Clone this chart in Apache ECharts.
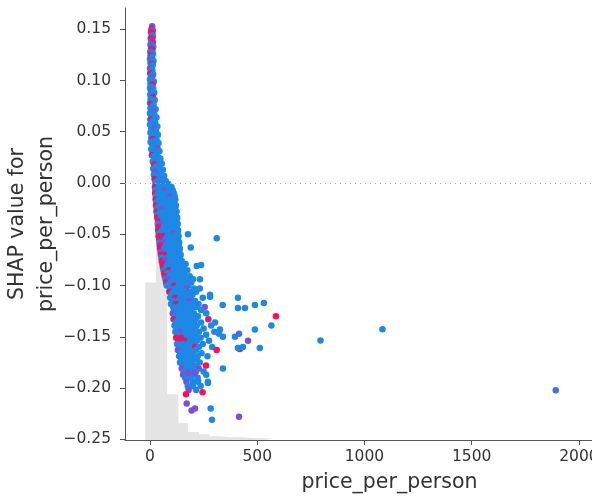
<!DOCTYPE html>
<html><head><meta charset="utf-8">
<script src="https://cdn.jsdelivr.net/npm/echarts@6/dist/echarts.min.js"></script>
<style>html,body{margin:0;padding:0;background:#fff}#c{width:592px;height:498px}</style>
</head><body><div id="c"></div>
<script>
const xTicks = [0, 500, 1000, 1500, 2000];
const yTicks = [-0.25, -0.2, -0.15, -0.1, -0.05, 0, 0.05, 0.1, 0.15];
const histEdges = [-22, 28, 80, 132, 178, 228, 278, 328, 378, 428, 478, 528, 578];
const histHeights = [-0.097, -0.048, -0.206, -0.234, -0.243, -0.245, -0.247, -0.248, -0.248, -0.2488, -0.249, -0.2493];
// [price_per_person, SHAP value, colour code 0 = blue ... 3 = red]
const topBand = [
[10,0.153,1],[7,0.150,2],[13,0.149,1],[5,0.147,3],[11,0.146,2],[8,0.144,1],[14,0.143,0],[4,0.141,2],[10,0.140,3],[6,0.138,1],[13,0.137,2],[2,0.135,0],[9,0.134,1],[15,0.133,0],[5,0.131,3],[11,0.130,2],[1,0.128,0],[7,0.127,1],[14,0.126,0],[3,0.124,2],[10,0.123,0],[0,0.121,0],[6,0.120,1],[16,0.119,0],[2,0.117,0],[9,0.116,2],[13,0.115,0],[4,0.113,0],[0,0.112,1],[11,0.110,0],[7,0.109,0],[1,0.107,2],[15,0.106,0],[4,0.104,0],[10,0.103,1],[0,0.101,0],[6,0.100,0],[18,0.099,0],[2,0.097,0],[12,0.096,3],[8,0.094,0],[0,0.093,0],[15,0.092,0],[4,0.090,1],[10,0.089,0],[20,0.088,0],[1,0.086,0],[7,0.085,0],[14,0.084,2],[3,0.082,0],[22,0.081,0],[9,0.080,0],[0,0.078,0],[5,0.077,3],[17,0.076,0],[11,0.075,0],[2,0.073,0],[26,0.072,0],[8,0.071,0],[14,0.070,1],[0,0.068,0],[20,0.067,0],[5,0.066,0],[11,0.064,0],[30,0.064,0],[2,0.062,2],[16,0.061,0],[8,0.060,0],[24,0.059,0],[0,0.057,0],[12,0.056,0],[34,0.055,0],[5,0.054,0],[19,0.053,1],[28,0.051,0],[9,0.050,0],[2,0.049,0],[15,0.048,0],[37,0.047,0],[23,0.046,0],[6,0.044,0],[12,0.043,2],[31,0.042,0],[18,0.041,0],[3,0.040,0],[40,0.039,0],[9,0.038,0],[26,0.037,0],[15,0.036,0],[35,0.034,1],[6,0.033,0],[21,0.032,0],[44,0.031,0],[12,0.030,0],[29,0.029,0],[9,0.027,2],[17,0.026,0],[38,0.025,0],[48,0.024,0],[24,0.023,0],[13,0.021,0],[32,0.020,0],[55,0.019,0],[19,0.018,3],[42,0.017,0],[27,0.016,0],[15,0.014,0],[60,0.013,0],[36,0.012,0],[22,0.011,1],[50,0.010,0],[18,0.008,0],[30,0.007,0],[66,0.007,0],[44,0.005,0],[21,0.004,2],[56,0.003,0],[35,0.002,0],[74,0.002,0],[25,0.000,0],[48,-0.001,0],[85,-0.001,0],[62,-0.002,0]
];
const midBand = [
[23,-0.004,2],[41,-0.004,0],[60,-0.004,0],[83,-0.004,0],[100,-0.004,0],
[25,-0.007,0],[47,-0.007,0],[66,-0.007,1],[90,-0.007,0],[106,-0.007,0],
[24,-0.010,3],[38,-0.010,0],[57,-0.010,0],[78,-0.010,0],[96,-0.010,0],[111,-0.010,0],
[27,-0.013,0],[50,-0.013,0],[71,-0.013,0],[94,-0.013,1],[115,-0.013,0],
[26,-0.016,2],[42,-0.016,0],[63,-0.016,0],[86,-0.016,0],[104,-0.016,0],[118,-0.016,0],
[29,-0.019,0],[53,-0.019,0],[75,-0.019,0],[96,-0.019,0],[113,-0.019,0],
[28,-0.022,3],[45,-0.022,0],[66,-0.022,0],[88,-0.022,0],[108,-0.022,0],[121,-0.022,0],
[31,-0.025,0],[56,-0.025,1],[79,-0.025,0],[100,-0.025,0],[117,-0.025,0],
[30,-0.028,2],[48,-0.028,0],[70,-0.028,0],[92,-0.028,0],[111,-0.028,0],[124,-0.028,0],
[33,-0.031,0],[59,-0.031,0],[82,-0.031,0],[103,-0.031,0],[120,-0.031,0],
[34,-0.034,3],[51,-0.034,0],[74,-0.034,0],[96,-0.034,0],[114,-0.034,0],[127,-0.034,0],
[37,-0.037,2],[62,-0.037,0],[85,-0.037,0],[106,-0.037,0],[123,-0.037,0],
[36,-0.040,0],[54,-0.040,1],[77,-0.040,0],[99,-0.040,0],[117,-0.040,0],[129,-0.040,0],
[39,-0.043,3],[65,-0.043,0],[88,-0.043,0],[109,-0.043,0],[125,-0.043,0],
[38,-0.046,2],[57,-0.046,0],[80,-0.046,0],[102,-0.046,0],[120,-0.046,0],[131,-0.046,0],
[41,-0.049,0],[68,-0.049,0],[91,-0.049,0],[112,-0.049,1],[128,-0.049,0],
[40,-0.052,3],[60,-0.052,2],[83,-0.052,0],[105,-0.052,0],[122,-0.052,0],[133,-0.052,0],
[43,-0.055,2],[71,-0.055,0],[94,-0.055,0],[115,-0.055,0],[130,-0.055,0],
[44,-0.058,0],[63,-0.058,1],[86,-0.058,0],[108,-0.058,0],[125,-0.058,0],[136,-0.058,0],
[46,-0.061,3],[74,-0.061,0],[97,-0.061,0],[118,-0.061,0],[133,-0.061,0],
[47,-0.064,2],[66,-0.064,0],[89,-0.064,0],[111,-0.064,0],[128,-0.064,0],[139,-0.064,0],
[49,-0.067,1],[77,-0.067,0],[100,-0.067,0],[121,-0.067,0],[136,-0.067,0],
[51,-0.070,3],[69,-0.070,2],[92,-0.070,0],[114,-0.070,0],[131,-0.070,0],[143,-0.070,0],
[53,-0.073,0],[80,-0.073,0],[103,-0.073,0],[124,-0.073,0],[140,-0.073,0],
[55,-0.076,2],[72,-0.076,1],[95,-0.076,0],[117,-0.076,0],[135,-0.076,0],[148,-0.076,0],
[58,-0.079,3],[83,-0.079,0],[107,-0.079,0],[128,-0.079,0],[145,-0.079,0],[166,-0.079,0],
[60,-0.082,2],[76,-0.082,0],[99,-0.082,0],[121,-0.082,0],[139,-0.082,0],[154,-0.082,0],
[63,-0.085,0],[87,-0.085,2],[111,-0.085,0],[133,-0.085,0],[150,-0.085,0],[174,-0.085,0],
[66,-0.088,3],[80,-0.088,0],[103,-0.088,0],[125,-0.088,0],[144,-0.088,0],[160,-0.088,0],
[69,-0.091,2],[91,-0.091,0],[115,-0.091,0],[137,-0.091,0],[156,-0.091,0],[185,-0.091,0],
[72,-0.094,0],[84,-0.094,1],[107,-0.094,0],[130,-0.094,0],[150,-0.094,0],[170,-0.094,0],
[75,-0.097,2],[95,-0.097,0],[119,-0.097,0],[142,-0.097,0],[161,-0.097,0],[192,-0.097,0],
[78,-0.100,0],[88,-0.100,0],[111,-0.100,2],[135,-0.100,0],[156,-0.100,0],[178,-0.100,0]
];
const lowerCluster = [
[95,-0.103,0],[122,-0.103,0],[148,-0.103,0],[170,-0.103,1],[205,-0.103,0],[232,-0.103,0],
[90,-0.106,2],[110,-0.106,0],[136,-0.106,0],[160,-0.106,0],[187,-0.106,0],[215,-0.106,0],
[100,-0.109,0],[128,-0.109,0],[152,-0.109,0],[178,-0.109,0],[198,-0.109,0],[280,-0.109,0],
[94,-0.112,0],[117,-0.112,2],[141,-0.112,0],[165,-0.112,0],[190,-0.112,0],[246,-0.112,0],
[104,-0.115,0],[130,-0.115,0],[156,-0.115,0],[182,-0.115,1],[210,-0.115,0],
[98,-0.118,0],[120,-0.118,2],[146,-0.118,0],[172,-0.118,0],[196,-0.118,0],[226,-0.118,0],
[108,-0.121,0],[134,-0.121,0],[160,-0.121,0],[186,-0.121,0],[215,-0.121,0],[255,-0.121,1],
[112,-0.124,0],[140,-0.124,0],[166,-0.124,0],[192,-0.124,0],[238,-0.124,0],
[106,-0.127,1],[128,-0.127,0],[152,-0.127,0],[178,-0.127,0],[204,-0.127,0],[262,-0.127,0],
[116,-0.130,0],[144,-0.130,0],[170,-0.130,0],[196,-0.130,0],[224,-0.130,0],
[110,-0.133,2],[134,-0.133,0],[160,-0.133,0],[186,-0.133,0],[212,-0.133,0],[272,-0.133,2],
[120,-0.136,0],[148,-0.136,0],[176,-0.136,0],[204,-0.136,0],[238,-0.136,0],
[114,-0.139,0],[138,-0.139,0],[164,-0.139,0],[190,-0.139,0],[218,-0.139,0],[285,-0.139,0],
[124,-0.142,0],[152,-0.142,0],[180,-0.142,0],[208,-0.142,0],[250,-0.142,0],
[118,-0.145,0],[142,-0.145,1],[168,-0.145,0],[196,-0.145,0],[228,-0.145,0],[300,-0.145,0],
[128,-0.148,0],[156,-0.148,0],[184,-0.148,0],[212,-0.148,0],[262,-0.148,0],
[122,-0.151,3],[146,-0.151,2],[172,-0.151,0],[200,-0.151,0],[236,-0.151,0],
[132,-0.154,3],[155,-0.154,3],[162,-0.154,2],[188,-0.154,0],[218,-0.154,0],[275,-0.154,0],
[126,-0.157,0],[150,-0.157,0],[178,-0.157,0],[206,-0.157,0],[246,-0.157,0],
[136,-0.160,0],[164,-0.160,0],[192,-0.160,0],[210,-0.160,3],[228,-0.160,0],[290,-0.160,0],
[130,-0.163,1],[156,-0.163,0],[184,-0.163,0],[214,-0.163,0],
[142,-0.166,0],[170,-0.166,0],[198,-0.166,0],[240,-0.166,0],
[136,-0.169,0],[160,-0.169,0],[188,-0.169,0],[222,-0.169,0],[268,-0.169,0],
[146,-0.172,0],[174,-0.172,0],[204,-0.172,0],[217,-0.172,0],
[140,-0.175,0],[166,-0.175,0],[194,-0.175,0],[232,-0.175,0],
[152,-0.178,0],[180,-0.178,0],[212,-0.178,0],[261,-0.178,3],
[148,-0.181,1],[172,-0.181,0],[200,-0.181,0],[227,-0.181,1],
[158,-0.184,0],[186,-0.184,0],[214,-0.184,0],[250,-0.184,0],
[154,-0.187,1],[178,-0.187,1],[205,-0.187,0],[262,-0.187,0],
[164,-0.190,0],[192,-0.190,0],[222,-0.190,0],
[170,-0.194,1],[200,-0.194,0],[224,-0.194,0],[270,-0.194,0],
[176,-0.198,0],[199,-0.198,0],[236,-0.198,0],
[180,-0.202,1],[215,-0.202,0],
[168,-0.206,3],[245,-0.204,3]
];
const outliers = [
[177,-0.050,0],[311,-0.054,0],[190,-0.063,0],[218,-0.081,0],[238,-0.080,0],[201,-0.094,0],[233,-0.094,0],
[280,-0.111,0],[410,-0.112,0],[410,-0.122,0],[443,-0.122,0],[489,-0.119,0],[531,-0.117,0],[339,-0.119,0],
[587,-0.130,3],[566,-0.139,0],[489,-0.143,0],[303,-0.136,0],[326,-0.143,0],[340,-0.150,0],[396,-0.150,0],
[415,-0.147,0.5],[457,-0.154,1],[419,-0.162,2],[512,-0.161,0],[410,-0.161,0],[433,-0.160,0],[322,-0.147,0],
[311,-0.163,3],[340,-0.181,0],[270,-0.195,0],[283,-0.220,0],[289,-0.231,0],[415,-0.228,1],
[795,-0.1537,0],[1084,-0.1427,0],[1892,-0.2022,0.5],
[171,-0.215,1],[194,-0.222,1],[210,-0.220,1],[177,-0.185,1],[210,-0.185,1],[224,-0.193,0],[201,-0.197,0]
];

const points = topBand.concat(midBand, lowerCluster, outliers);
const histData = histEdges.map((e, i) => [e, histHeights[Math.min(i, histHeights.length - 1)]]);
const fmt = v => { const s = (Math.abs(v) < 1e-9 ? 0 : v).toFixed(2); return s.replace('-', '\u2212'); };

const chart = echarts.init(document.getElementById('c'), null, {renderer: 'canvas'});
const font = "'DejaVu Sans', sans-serif";
chart.setOption({
  animation: false,
  backgroundColor: '#ffffff',
  grid: {left: 125, top: 8, width: 529, height: 432, outerBoundsMode: 'none', containLabel: false},
  xAxis: {
    type: 'value', min: -116.6, max: 2350,
    name: 'price_per_person', nameLocation: 'middle', nameGap: 32, nameMoveOverlap: false,
    nameTextStyle: {fontFamily: font, fontSize: 20.5, color: '#333'},
    axisLine: {show: true, onZero: false, lineStyle: {color: '#555', width: 1}},
    axisTick: {show: true, length: 5, lineStyle: {color: '#555'}, customValues: xTicks},
    axisLabel: {fontFamily: font, fontSize: 15.5, color: '#333', margin: 9, customValues: xTicks, formatter: v => String(v)},
    splitLine: {show: false}
  },
  yAxis: {
    type: 'value', min: -0.2507, max: 0.1707,
    name: 'SHAP value for\nprice_per_person', nameLocation: 'middle', nameGap: 64, nameMoveOverlap: false,
    nameTextStyle: {fontFamily: font, fontSize: 20.5, color: '#333', lineHeight: 29},
    axisLine: {show: true, onZero: false, lineStyle: {color: '#555', width: 1}},
    axisTick: {show: true, length: 5, lineStyle: {color: '#555'}, customValues: yTicks},
    axisLabel: {fontFamily: font, fontSize: 15.5, color: '#333', margin: 14, customValues: yTicks, formatter: fmt},
    splitLine: {show: false}
  },
  visualMap: {
    show: false, type: 'continuous', min: 0, max: 3, dimension: 2, seriesIndex: 1,
    inRange: {color: ['#1E88E5', '#7B4FD6', '#C8207F', '#FF0D57']}
  },
  series: [
    {
      type: 'line', data: histData, step: 'end', symbol: 'none', silent: true, z: 1,
      lineStyle: {width: 0, opacity: 0},
      areaStyle: {color: '#e5e5e5', opacity: 1, origin: 'start'},
      markLine: {
        silent: true, symbol: 'none', label: {show: false},
        lineStyle: {color: '#aaaaaa', width: 1, type: [1, 4]},
        data: [{yAxis: 0}]
      }
    },
    {
      type: 'scatter', data: points, symbolSize: 6.5, z: 3,
      itemStyle: {opacity: 1}
    }
  ]
});
</script></body></html>
